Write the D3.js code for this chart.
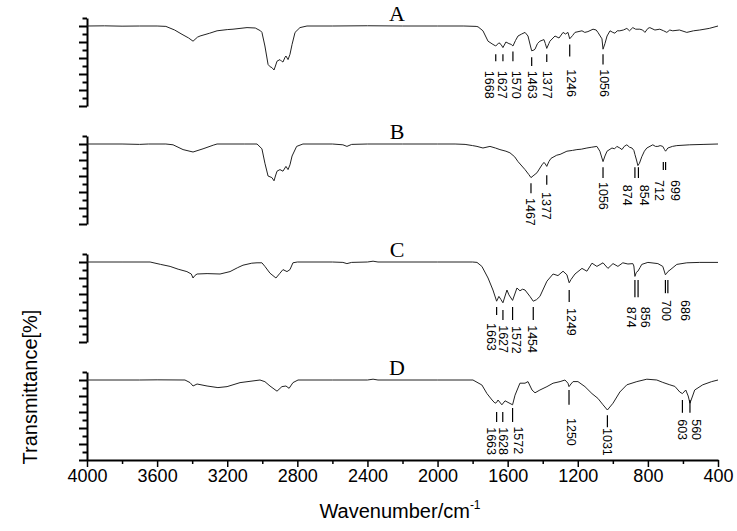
<!DOCTYPE html>
<html>
<head>
<meta charset="utf-8">
<script src="https://cdn.jsdelivr.net/npm/d3@7"></script>
<style>
  body { margin: 0; background: #fff; }
  text { font-family: "Liberation Sans", Arial, sans-serif; }
</style>
</head>
<body>
<div id="chart"></div>
<script>
// IR spectra, four stacked panels (A-D), transmittance vs wavenumber

var panelNames = ["A", "B", "C", "D"];
var xTicks = [4000, 3600, 3200, 2800, 2400, 2000, 1600, 1200, 800, 400];
var xMinorTicks = [3800, 3400, 3000, 2600, 2200, 1800, 1400, 1000, 600];

// [wavenumber, transmittance]
var specA = [[4000,100],[3900,100.2],[3800,99.8],[3700,100],[3600,100],[3550,99.5],[3500,95],[3458,89.6],[3420,85],[3395,81],[3370,86],[3355,87.5],[3300,91],[3258,94],[3200,95.5],[3167,96],[3087,98],[3040,97.5],[3010,94],[3002,92],[2985,75],[2967,52],[2955,49],[2945,48],[2933,45],[2925,50],[2916,56],[2899,58],[2890,56],[2882,55],[2870,61],[2865,62.5],[2853,58],[2842,64.6],[2830,77],[2813,92],[2785,98],[2745,100],[2600,100],[2400,100.3],[2200,100],[2000,100],[1850,100],[1780,99.5],[1769,99],[1741,94],[1712,81],[1684,77],[1668,75],[1650,79],[1638,77],[1627,73],[1610,80],[1593,78],[1580,77],[1570,75],[1555,82],[1541,87.5],[1520,90],[1501,92],[1484,87.5],[1470,75],[1463,69],[1450,70],[1444,71],[1430,78],[1416,81],[1393,83],[1385,78],[1377,72],[1365,78],[1359,81],[1330,87.5],[1307,85],[1284,92],[1270,90],[1256,92],[1246,84],[1230,88],[1216,92],[1176,94],[1160,92],[1142,93],[1113,96],[1095,95],[1085,92],[1062,84],[1056,71],[1045,78],[1033,87.5],[1016,94],[1000,92],[988,91],[975,94],[960,94],[940,95],[920,97],[905,94],[886,98],[870,96],[846,96],[830,95],[817,92],[800,97],[789,98],[760,95],[732,96],[710,94],[692,92],[675,95],[658,94],[620,95],[578,92],[540,94],[504,95],[450,97],[400,100]];

var specB = [[4000,100],[3800,100],[3700,99.5],[3650,100],[3550,100],[3509,99],[3452,93],[3395,90],[3338,94],[3280,98.5],[3258,100],[3100,100],[3030,100],[3002,94],[2985,76],[2967,60],[2945,58],[2933,54],[2925,60],[2916,66],[2899,68],[2882,66],[2865,72],[2853,68],[2842,74],[2830,85],[2804,97],[2768,100],[2600,100],[2540,99],[2517,97],[2490,99.5],[2400,100],[2200,100],[2000,100],[1900,100],[1843,99.5],[1800,98],[1775,97],[1741,95],[1701,97],[1670,95],[1644,93],[1610,91],[1587,89],[1560,84],[1541,78],[1501,68],[1480,62],[1467,58],[1450,61],[1433,64],[1404,74],[1393,77],[1385,75],[1377,72],[1365,78],[1353,82],[1320,86],[1301,87],[1262,91],[1230,92],[1205,93],[1180,93.5],[1148,95],[1120,96],[1091,97],[1074,91],[1056,78],[1045,85],[1033,91],[1005,95],[990,94],[977,97],[960,95],[948,93],[935,97],[920,99],[905,96],[891,95],[880,92],[874,87],[865,80],[857,73],[848,76],[835,84],[820,91],[806,95],[772,99],[757,97],[743,97],[730,98],[715,97],[705,93],[699,91],[686,95],[660,97],[635,98],[561,99],[480,99.5],[400,100]];

var specC = [[4000,100],[3800,100],[3640,100],[3580,97],[3526,94.5],[3480,91],[3430,88],[3405,85],[3395,80],[3385,83],[3372,85],[3315,85.5],[3241,85],[3184,88],[3140,93],[3110,96],[3060,98.5],[3030,99],[3002,99],[2985,94.5],[2956,86],[2922,80],[2899,86],[2882,90.5],[2859,88],[2842,90.5],[2825,99],[2800,100],[2600,100],[2540,99.5],[2517,98],[2490,99.5],[2400,100],[2368,101],[2340,100],[2000,100],[1800,100],[1775,99.5],[1747,94.5],[1712,80],[1684,65],[1663,51],[1650,57],[1638,53],[1627,49],[1604,65],[1593,59],[1572,52],[1547,67.5],[1530,64],[1515,66],[1501,65],[1473,57],[1454,51],[1435,53],[1416,57],[1376,76],[1341,85],[1313,83],[1284,88.5],[1262,84],[1249,74],[1239,78],[1216,85],[1176,92],[1148,88.5],[1119,98.5],[1091,94.5],[1056,99],[1028,92],[999,98],[971,94.5],[943,99],[914,97.5],[886,98],[880,95],[874,82],[866,87],[857,88.5],[845,93],[835,97],[800,99.5],[743,98],[715,94.5],[700,84],[692,86],[686,88],[674,90],[635,97],[578,99],[504,99.5],[400,99.5]];

var specD = [[4000,100],[3700,100],[3600,100.2],[3441,100],[3412,96.7],[3395,92.5],[3372,95],[3315,92.5],[3253,90.5],[3201,91.7],[3127,96.7],[3013,100],[2985,97.9],[2956,92.5],[2916,86],[2888,91.7],[2865,92.5],[2847,89.6],[2825,96.7],[2796,100],[2600,100],[2400,100],[2368,101],[2340,100],[2000,100],[1798,100],[1747,93.75],[1718,83],[1689,75],[1672,71],[1663,72],[1655,75],[1633,69],[1615,74],[1598,72],[1572,69],[1558,81],[1530,96],[1501,96],[1484,98],[1461,87.5],[1444,84],[1416,87.5],[1376,91.7],[1341,96],[1301,98],[1273,100],[1256,96],[1250,91.7],[1239,95],[1227,98],[1199,98],[1159,91.7],[1119,83],[1085,77],[1056,69],[1031,62.5],[999,71],[960,85],[920,94],[863,98],[806,101],[749,100],[715,97],[675,94],[646,92],[618,85],[603,83],[584,87.5],[570,80],[560,71],[545,80],[533,87.5],[487,94],[436,98],[400,100]];

// peak labels: [peak, text wavenumber, mark top, mark bottom, text top]
var peaksA = [[1668,1701,64.6,56,44],[1627,1627,64.6,56,44],[1570,1547,68,56,44],[1463,1456,61,50,44],[1377,1370,64.6,55,44],[1246,1233,77,62,46],[1056,1050,64.6,52,46]];
var peaksB = [[1467,1467,51,38.5,32.5],[1377,1377,61,49,40],[1056,1056,71,57.5,52.5],[874,914,71,57.5,49],[854,817,71,57.5,49],[712,731,77.5,67.5,55],[699,645,77.5,67.5,55]];
var peaksC = [[1663,1690,43.75,33.75,23.75],[1627,1621,40,27.5,21],[1572,1547,43.75,27.5,20],[1454,1456,43.75,27.5,21],[1249,1233,65,50,42.5],[874,896,77.5,56,44],[856,811,77.5,56,44],[700,691,77.5,61,52.5],[686,588,77.5,61,52.5]];
var peaksD = [[1663,1690,60,47.5,41],[1628,1621,60,47.5,41],[1572,1541,65,47.5,42],[1250,1233,87.5,69,52.5],[1031,1028,56,41,40],[603,605,75,59,51],[560,520,75,59,51]];

var spectra = [specA, specB, specC, specD];
var peaks = [peaksA, peaksB, peaksC, peaksD];

var W = 737, H = 531;
var panelTop = 18, panelH = 88, panelStep = 118;

var svg = d3.select("#chart").append("svg")
    .attr("width", W)
    .attr("height", H);

var x = d3.scaleLinear().domain([4000, 400]).range([87, 718]);

var line = d3.line()
    .x(function(d){ return x(d[0]); });

panelNames.forEach(function(name, i){
    var top = panelTop + i * panelStep;
    var y = d3.scaleLinear().domain([0, 110]).range([top + panelH, top]);
    var g = svg.append("g").attr("class", "panel");

    // left axis, major + minor ticks
    g.append("g")
        .attr("transform", "translate(" + x(4000) + ",0)")
        .call(d3.axisLeft(y).tickValues(d3.range(0, 101, 20)).tickSize(8).tickSizeOuter(0).tickFormat(""))
        .call(function(a){ a.selectAll("line").attr("stroke-width", 2); a.select(".domain").attr("stroke-width", 2); });
    g.append("g")
        .attr("transform", "translate(" + x(4000) + ",0)")
        .call(d3.axisLeft(y).tickValues(d3.range(10, 111, 20)).tickSize(4.5).tickSizeOuter(0).tickFormat(""))
        .call(function(a){ a.selectAll("line").attr("stroke-width", 2); a.select(".domain").remove(); });

    line.y(function(d){ return y(d[1]); });
    g.append("path")
        .datum(spectra[i])
        .attr("fill", "none")
        .attr("stroke", "#222")
        .attr("stroke-width", 1)
        .attr("d", line);

    g.append("text")
        .attr("x", 397)
        .attr("y", top + 3)
        .attr("text-anchor", "middle")
        .style("font-family", "'Liberation Serif', 'Times New Roman', serif")
        .style("font-size", "22px")
        .text(name);

    var pk = g.selectAll(".peak")
        .data(peaks[i])
        .enter().append("g")
            .attr("class", "peak");

    pk.append("line")
        .attr("x1", function(d){ return x(d[0]); })
        .attr("x2", function(d){ return x(d[0]); })
        .attr("y1", function(d){ return y(d[2]); })
        .attr("y2", function(d){ return y(d[3]); })
        .attr("stroke", "#000")
        .attr("stroke-width", 1.2);

    pk.append("text")
        .attr("transform", function(d){
            return "translate(" + x(d[1]) + "," + y(d[4]) + ") rotate(90)";
        })
        .attr("dy", "0.36em")
        .style("font-size", "12.5px")
        .text(function(d){ return d[0]; });
});

// bottom x axis
var axisY = panelTop + 3 * panelStep + panelH;
var xa = svg.append("g")
    .attr("transform", "translate(0," + axisY + ")")
    .call(d3.axisBottom(x).tickValues(xTicks).tickSize(7).tickSizeOuter(0).tickPadding(2).tickFormat(d3.format("d")));
xa.selectAll("text").style("font-size", "18px").attr("fill", "#000");
xa.selectAll("line").attr("stroke-width", 1.5);
xa.select(".domain").attr("stroke-width", 2);

svg.append("g")
    .attr("transform", "translate(0," + axisY + ")")
    .call(d3.axisBottom(x).tickValues(xMinorTicks).tickSize(4).tickFormat(""))
    .call(function(a){ a.select(".domain").remove(); a.selectAll("line").attr("stroke-width", 1.5); });

// axis titles
var xt = svg.append("text")
    .attr("x", 400)
    .attr("y", 518)
    .attr("text-anchor", "middle")
    .style("font-size", "20px");
xt.append("tspan").text("Wavenumber/cm");
xt.append("tspan").attr("dy", "-9").style("font-size", "12px").text("-1");

svg.append("text")
    .attr("transform", "translate(37,387) rotate(-90)")
    .attr("text-anchor", "middle")
    .style("font-size", "20px")
    .text("Transmittance[%]");
</script>
</body>
</html>
